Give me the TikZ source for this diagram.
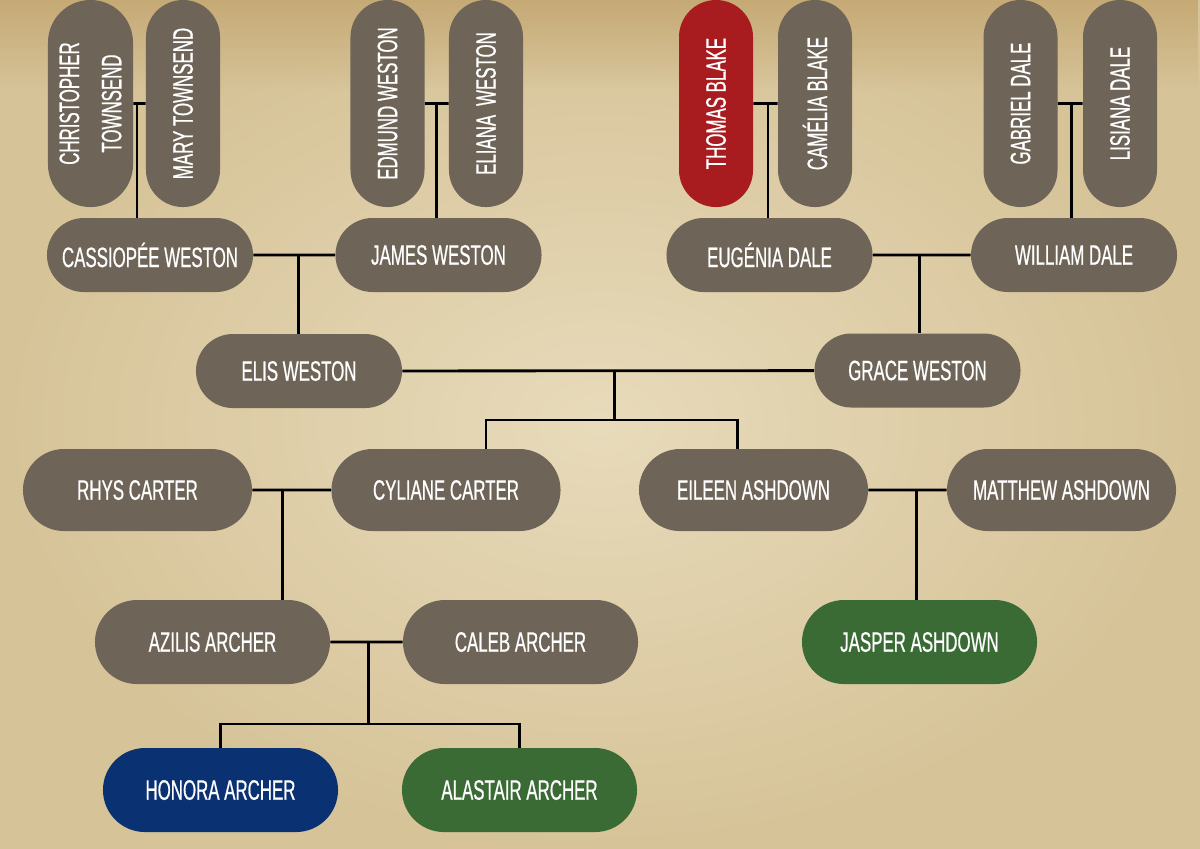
\documentclass[tikz,border=0pt]{standalone}
\usepackage{fontspec}
\setmainfont{Liberation Sans}[FakeStretch=0.6,FakeBold=0.6]
\usepackage{tikz}
\usetikzlibrary{shapes.misc,calc,fadings}
\definecolor{parchin}{HTML}{E8DBBB}
\definecolor{parchout}{HTML}{D6C398}
\definecolor{parchtop}{HTML}{C6AA76}
\definecolor{famgray}{HTML}{6E6458}
\definecolor{famred}{HTML}{A81C20}
\definecolor{famblue}{HTML}{0A3273}
\definecolor{famgreen}{HTML}{3A6B35}

\begin{document}
\begin{tikzpicture}[x=0.025cm,y=-0.025cm,
    every node/.style={font=\fontsize{20}{22}\selectfont,text=white},
    pill/.style={rounded rectangle,fill=famgray,inner sep=0pt,minimum width=5.15cm,minimum height=1.85cm},
    tall/.style={pill,rotate=90,minimum width=5.175cm},
    wide/.style={pill,minimum width=5.725cm,minimum height=2.05cm},
    big/.style={pill,minimum width=5.875cm,minimum height=2.1cm},
    link/.style={line width=2pt,black}]
    \shade[inner color=parchin,outer color=parchout] (0,0) rectangle (1200,848);
    \fill[parchtop,path fading=south] (0,0) rectangle (1200,90);
    % grandparents
    \node[tall,minimum height=2.125cm,align=center,font=\fontsize{20}{30}\selectfont] (chris) at (90.5,103.5) {CHRISTOPHER\\TOWNSEND};
    \node[tall] (mary) at (183,103.5) {MARY TOWNSEND};
    \node[tall] (edm) at (387.5,103.5) {EDMUND WESTON};
    \node[tall] (eli) at (486,103.5) {ELIANA\hspace{0.15em} WESTON};
    \node[tall,fill=famred] (tho) at (716,103.5) {THOMAS BLAKE};
    \node[tall] (cam) at (815,103.5) {CAMÉLIA BLAKE};
    \node[tall] (gab) at (1020.5,103.5) {GABRIEL DALE};
    \node[tall] (lis) at (1120,103.5) {LISIANA DALE};
    % parents
    \node[pill] (cas) at (150,255) {CASSIOPÉE WESTON};
    \node[pill] (jam) at (438.5,255) {JAMES WESTON};
    \node[pill] (eug) at (769.5,255) {EUGÉNIA DALE};
    \node[pill] (wil) at (1074,255) {WILLIAM DALE};
    \node[pill] (elis) at (299,371) {ELIS WESTON};
    \node[pill] (grace) at (917.5,370.5) {GRACE WESTON};
    % children
    \node[wide] (rhys) at (137.5,490) {RHYS CARTER};
    \node[wide] (cyl) at (446,490) {CYLIANE CARTER};
    \node[wide] (eil) at (753.5,490) {EILEEN ASHDOWN};
    \node[wide] (mat) at (1061.5,490) {MATTHEW ASHDOWN};
    \node[big] (azi) at (212.5,642) {AZILIS ARCHER};
    \node[big] (cal) at (520.5,642) {CALEB ARCHER};
    \node[big,fill=famgreen] (jas) at (919.5,642) {JASPER ASHDOWN};
    \node[big,fill=famblue] (hon) at (220.5,790) {HONORA ARCHER};
    \node[big,fill=famgreen] (ala) at (519.5,790) {ALASTAIR ARCHER};
    % couples and descent
    \foreach \a/\b/\p/\j in {chris/mary/.3/j1,edm/eli/.5/j2,tho/cam/.6/j3,gab/lis/.56/j4,cas/jam/.55/j5,
        eug/wil/.48/j6,elis/grace/.515/j7,rhys/cyl/.38/j8,eil/mat/.61/j9,azi/cal/.53/j10}
      \draw[link] (\a) -- coordinate[pos=\p] (\j) (\b);
    \foreach \j/\c in {j1/cas,j2/jam,j3/eug,j4/wil,j5/elis,j6/grace,j8/azi,j9/jas}
      \draw[link] (\j) -- (\j |- \c.north);
    \draw[link] (j7) -- (j7 |- 0,420) coordinate (bar1);
    \draw[link] ([xshift=1cm]cyl.north) |- (bar1) -| ([xshift=-0.4cm]eil.north);
    \draw[link] (j10) -- (j10 |- 0,724) coordinate (bar2);
    \draw[link] (hon.north) |- (bar2) -| (ala.north);
  \end{tikzpicture}
\end{document}
